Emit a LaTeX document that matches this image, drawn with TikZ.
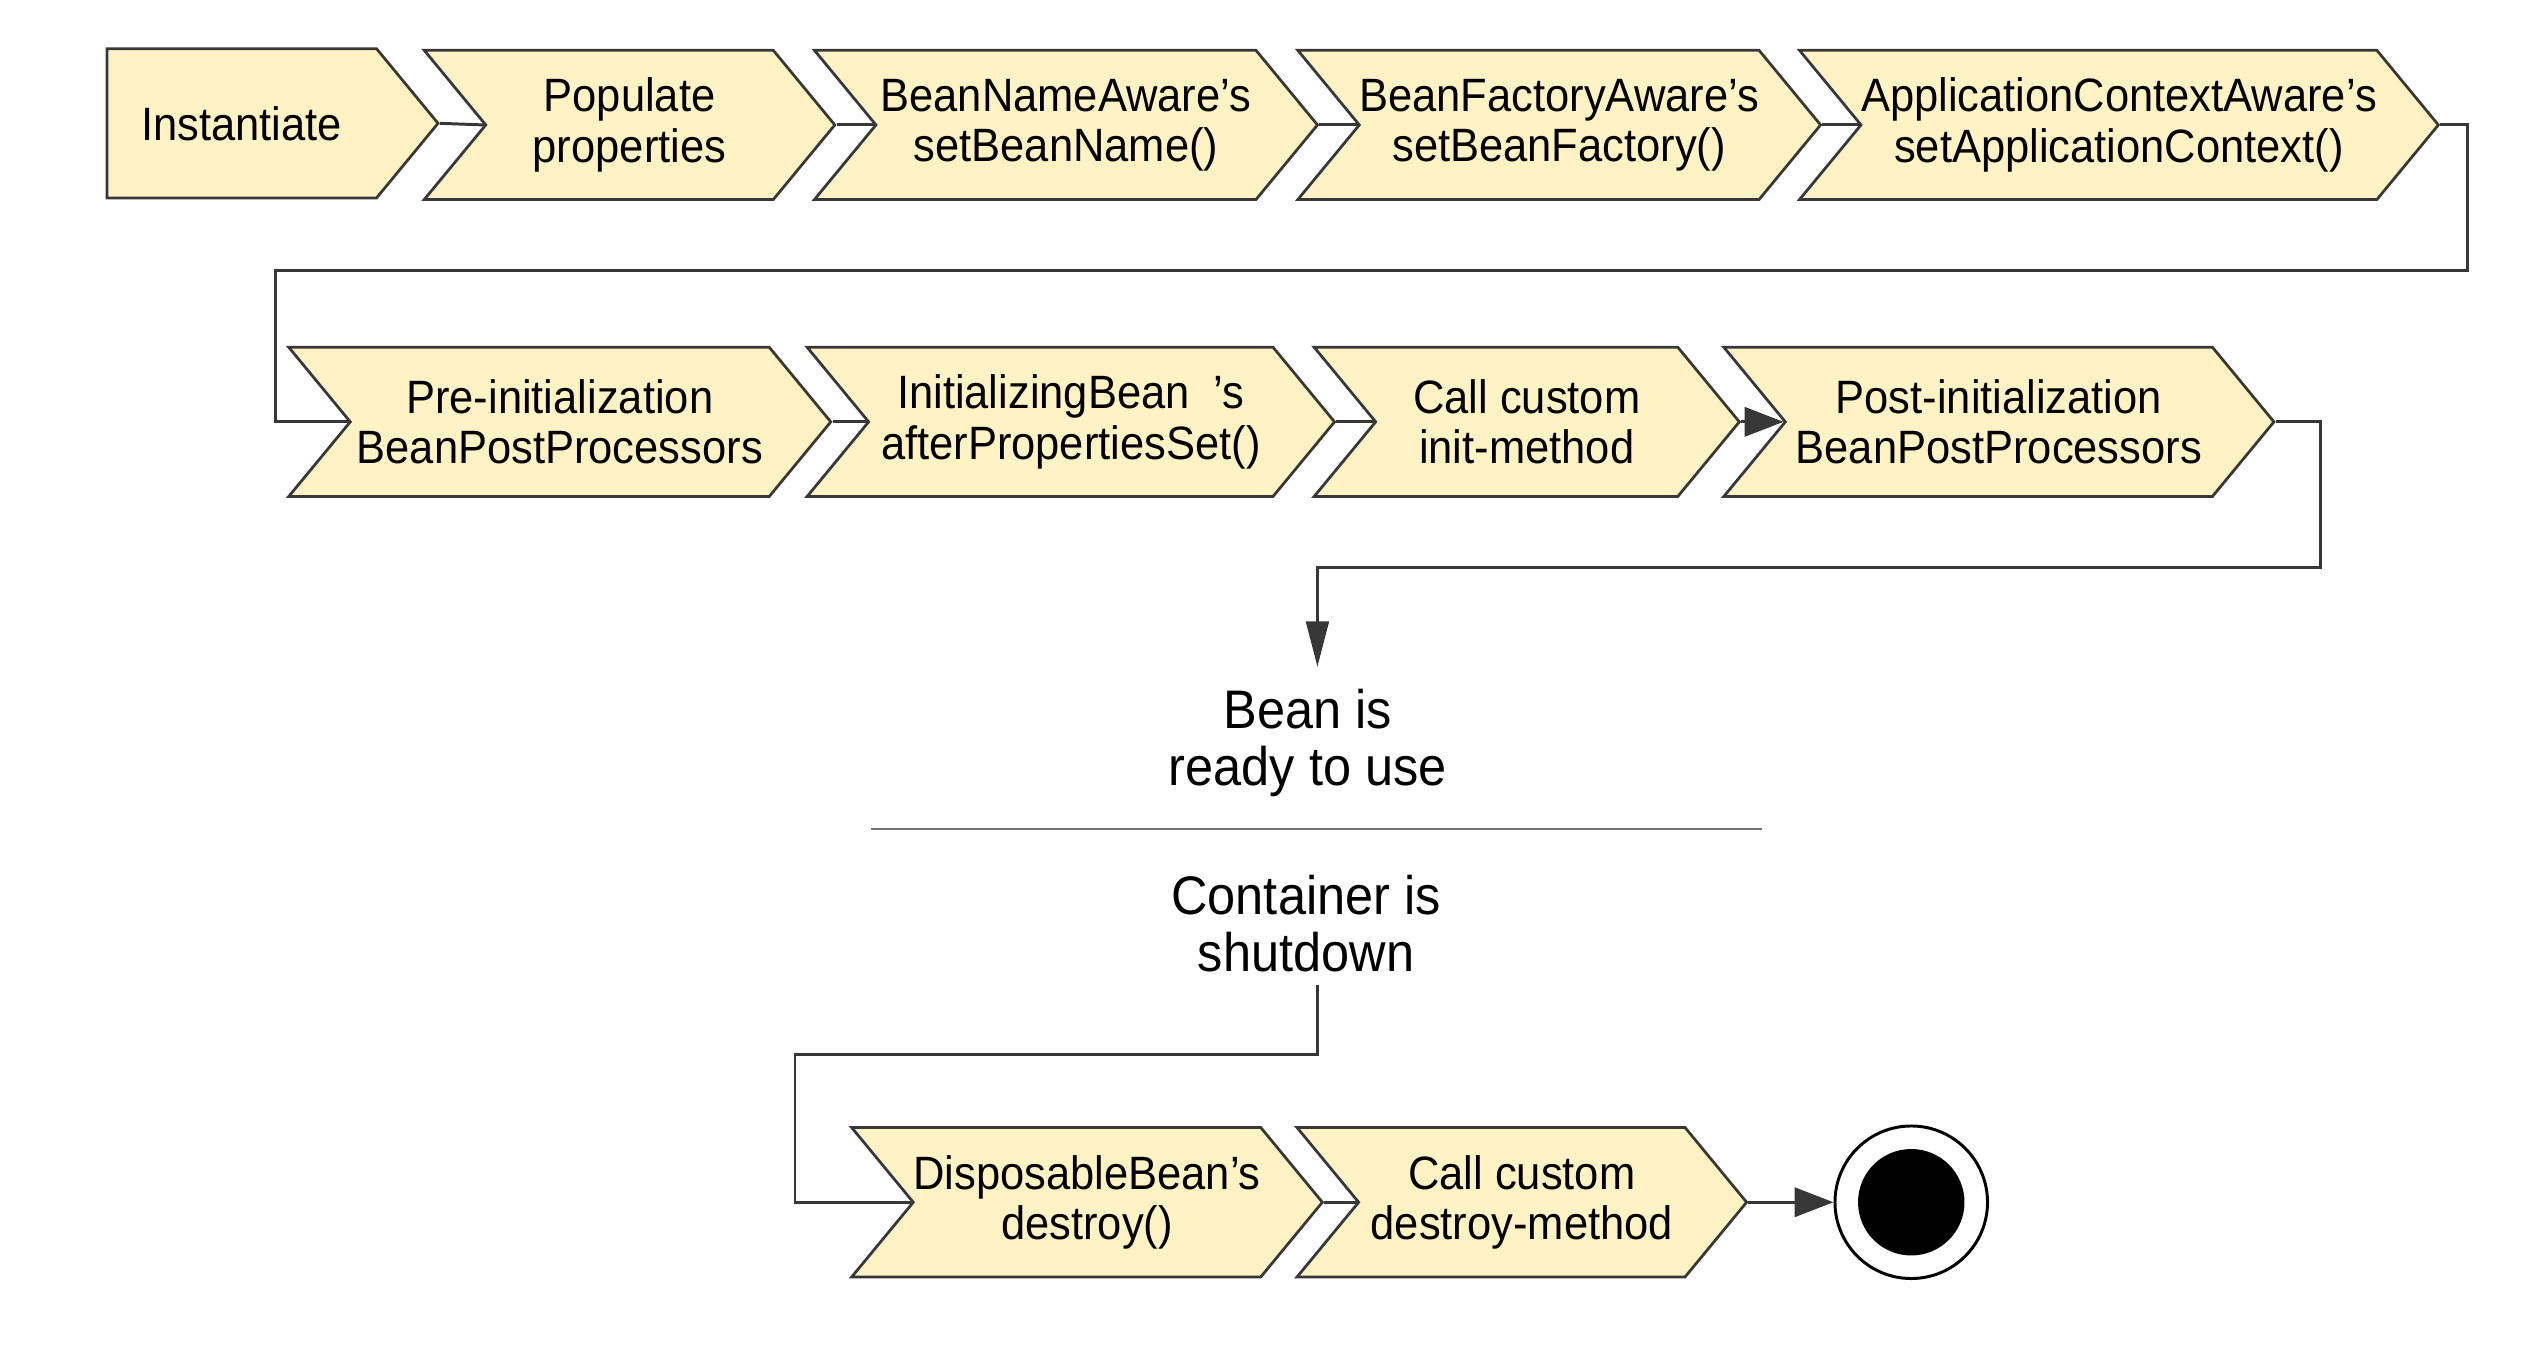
\documentclass[tikz,border=0pt]{standalone}
\usepackage{fontspec}
\setmainfont{Liberation Sans}[FakeStretch=0.93]
\usetikzlibrary{shapes.symbols,arrows.meta,positioning}

\definecolor{beanfill}{RGB}{255,242,196}
\definecolor{edgegray}{RGB}{55,55,55}
\newcommand{\lifefont}{\fontsize{20.5}{22}\selectfont}
\newcommand{\notefont}{\fontsize{23.8}{25}\selectfont}

\tikzset{
x=0.025cm, y=-0.025cm,
>={Triangle[length=0.6cm,width=0.45cm]},
phase/.style={signal, signal from=west, signal to=east, signal pointer angle=101,
  draw=edgegray, line width=1.2pt, fill=beanfill, minimum height=2.3cm,
  inner sep=0pt, align=center, font=\lifefont},
flow/.style={draw=edgegray, line width=1.3pt},
note/.style={align=center, font=\notefont, inner xsep=0pt},
finalstate/.style={circle, draw=black, line width=1.3pt, fill=white,
  minimum size=2.35cm, inner sep=0pt,
  path picture={\fill[black] (path picture bounding box.center) circle (0.82cm);}},
}

\begin{document}
\begin{tikzpicture}
\useasboundingbox (0,0) rectangle (1568,831);

% first row
\node[phase, signal from=nowhere, minimum width=5.1cm] (inst) at (149,76) {Instantiate};
\node[phase, minimum width=6.325cm] (pop) at (388,77) {Populate\\properties};
\node[phase, minimum width=7.75cm] (bna) at (657,77) {BeanNameAware's\\setBeanName()};
\node[phase, minimum width=8.05cm] (bfa) at (961,77) {BeanFactoryAware's\\setBeanFactory()};
\node[phase, minimum width=9.8cm] (aca) at (1306,77) {ApplicationContextAware's\\setApplicationContext()};

% second row
\node[phase, minimum width=8.35cm] (prei) at (345,260) {Pre-initialization\\BeanPostProcessors};
\node[phase, minimum width=8.125cm] (ibean) at (660,260) {InitializingBean~~'s\\afterPropertiesSet()};
\node[phase, minimum width=6.55cm] (cinit) at (941,260) {Call custom\\init-method};
\node[phase, minimum width=8.475cm] (posti) at (1232,260) {Post-initialization\\BeanPostProcessors};

% ready / shutdown
\node[note, inner ysep=0.34cm] (ready) at (806,458) {Bean is\\ready to use};
\node[note, inner ysep=0.2cm] (shut) at (805,569) {Container is\\shutdown};

% third row
\node[phase, minimum width=7.25cm] (dbean) at (670,741) {DisposableBean's\\destroy()};
\node[phase, minimum width=6.925cm] (cdest) at (938,741) {Call custom\\destroy-method};
\node[finalstate] (stop) at (1178,741) {};

% bends
\coordinate (r1) at (1521,167);
\coordinate (l2) at (170,167);
\coordinate (r2) at (1430,350);
\coordinate (l3) at (812,350);
\coordinate (r3) at (812,650);
\coordinate (l4) at (490,650);

\draw[flow] (inst.east) -- (pop.west);
\draw[flow] (pop.east) -- (bna.west);
\draw[flow] (bna.east) -- (bfa.west);
\draw[flow] (bfa.east) -- (aca.west);
\draw[flow] (aca.east) -| (r1) -- (l2) |- (prei.west);
\draw[flow] (prei.east) -- (ibean.west);
\draw[flow] (ibean.east) -- (cinit.west);
\draw[flow,->] (cinit.east) -- (posti.west);
\draw[flow,-{Triangle[length=0.7cm,width=0.35cm]}] (posti.east) -| (r2) -- (l3) -- (l3 |- ready.north);
\draw[flow] (shut.south -| r3) -- (r3) -- (l4) |- (dbean.west);
\draw[flow] (dbean.east) -- (cdest.west);
\draw[flow,->] (cdest.east) -- (stop.west);

% divider
\draw[draw=black!55, line width=1pt] (537,511) -- (1086,511);
\end{tikzpicture}
\end{document}
